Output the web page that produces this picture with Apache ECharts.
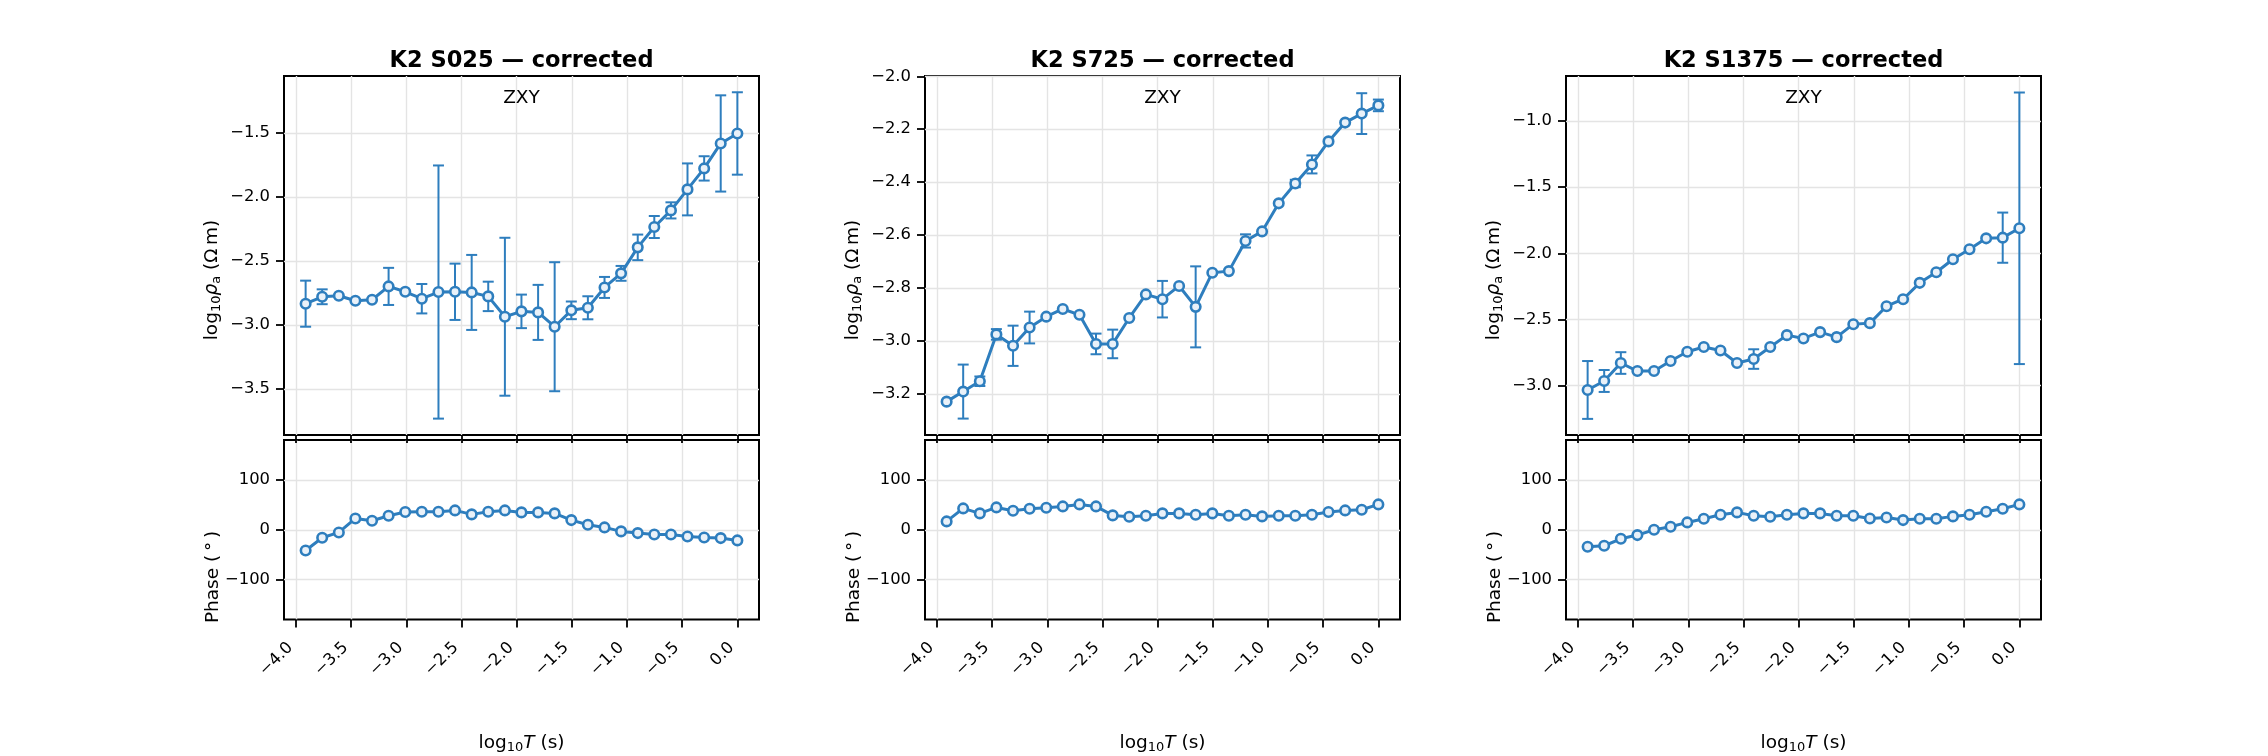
<!DOCTYPE html>
<html>
<head>
<meta charset="utf-8">
<script src="https://cdn.jsdelivr.net/npm/echarts@6/dist/echarts.min.js"></script>
<style>
  html, body { margin: 0; padding: 0; background: #fff; }
  #chart { width: 2268px; height: 756px; }
</style>
</head>
<body>
<div id="chart"></div>
<script>
// log10 of period (s), two samples per octave
const logT = [-3.913, -3.763, -3.612, -3.462, -3.311, -3.161, -3.010, -2.860, -2.709,
  -2.559, -2.408, -2.258, -2.107, -1.957, -1.806, -1.656, -1.505, -1.355, -1.204,
  -1.054, -0.903, -0.753, -0.602, -0.452, -0.301, -0.151, 0.000];

const stations = ['K2 S025', 'K2 S725', 'K2 S1375'];

// log10 apparent resistivity, its error (half width) and phase, per station
const rhoS025 = [-2.833, -2.779, -2.771, -2.810, -2.802, -2.698, -2.740, -2.794, -2.742,
  -2.740, -2.745, -2.776, -2.935, -2.893, -2.901, -3.013, -2.885, -2.865, -2.706,
  -2.596, -2.393, -2.234, -2.104, -1.940, -1.776, -1.581, -1.503];
const errS025 = [0.180, 0.058, 0, 0, 0, 0.145, 0, 0.115, 0.989, 0.220, 0.293, 0.115,
  0.617, 0.131, 0.215, 0.504, 0.069, 0.090, 0.082, 0.058, 0.100, 0.086, 0.063, 0.203,
  0.095, 0.376, 0.322];
const phaseS025 = [-41.5, -16.1, -5.4, 22.7, 18.1, 28.1, 35.5, 36.1, 36.1, 38.8, 30.8,
  36.1, 38.8, 34.8, 34.8, 32.8, 19.4, 10.0, 4.7, -3.3, -6.7, -9.4, -9.4, -13.4, -15.4,
  -16.7, -21.4];

const rhoS725 = [-3.229, -3.191, -3.152, -2.975, -3.018, -2.949, -2.908, -2.879, -2.901,
  -3.011, -3.011, -2.913, -2.824, -2.842, -2.792, -2.871, -2.742, -2.736, -2.622,
  -2.586, -2.480, -2.405, -2.333, -2.246, -2.175, -2.141, -2.110];
const errS725 = [0, 0.102, 0.018, 0.020, 0.076, 0.060, 0, 0, 0, 0.039, 0.054, 0, 0,
  0.069, 0, 0.153, 0, 0, 0.025, 0, 0, 0.014, 0.034, 0, 0, 0.077, 0.022];
const phaseS725 = [16.7, 42.8, 32.8, 44.8, 38.1, 42.1, 44.1, 46.8, 50.8, 46.8, 28.8,
  26.1, 28.1, 32.8, 32.8, 30.1, 32.8, 28.1, 30.1, 26.8, 28.1, 28.1, 30.1, 35.5, 38.8,
  40.1, 50.8];

const rhoS1375 = [-3.035, -2.967, -2.831, -2.892, -2.892, -2.816, -2.746, -2.710, -2.736,
  -2.831, -2.801, -2.710, -2.620, -2.645, -2.597, -2.635, -2.537, -2.529, -2.401,
  -2.348, -2.224, -2.144, -2.045, -1.970, -1.887, -1.882, -1.811];
const errS1375 = [0.219, 0.083, 0.082, 0, 0, 0, 0, 0, 0, 0, 0.074, 0, 0, 0, 0, 0, 0, 0,
  0, 0, 0, 0, 0, 0, 0, 0.190, 1.028];
const phaseS1375 = [-34.1, -32.1, -18.1, -10.7, 0.0, 6.0, 14.7, 22.1, 30.1, 34.8, 28.1,
  26.1, 30.1, 32.8, 32.8, 28.1, 28.1, 22.7, 24.7, 19.4, 22.1, 22.1, 26.8, 30.1, 36.1,
  42.1, 50.8];

// ticks and view limits
const xTicks = [-4.0, -3.5, -3.0, -2.5, -2.0, -1.5, -1.0, -0.5, 0.0];
const xLimits = [-4.109, 0.196];
const rhoTicks = [
  [-3.5, -3.0, -2.5, -2.0, -1.5],
  [-3.2, -3.0, -2.8, -2.6, -2.4, -2.2, -2.0],
  [-3.0, -2.5, -2.0, -1.5, -1.0]
];
const rhoStep = [0.5, 0.2, 0.5];
const rhoLimits = [[-3.859, -1.054], [-3.355, -1.999], [-3.376, -0.658]];
const phaseTicks = [-100, 0, 100];
const phaseLimits = [-180, 180];

const rhoSets = [rhoS025, rhoS725, rhoS1375];
const errSets = [errS025, errS725, errS1375];
const phaseSets = [phaseS025, phaseS725, phaseS1375];

const BLUE = '#2e7ebe';
const FACE = '#e9f1f9';
const FONT = 'DejaVu Sans';
const lefts = [284, 925, 1566];
const W = 475;

const fmt1 = v => (Math.abs(v) < 1e-9 ? 0 : v).toFixed(1).replace('-', '\u2212');
const fmt0 = v => String(Math.round(v)).replace('-', '\u2212');

function renderErr(params, api) {
  const x = api.value(0), v = api.value(1), e = api.value(2);
  if (!e) return;
  const hi = api.coord([x, v + e]);
  const lo = api.coord([x, v - e]);
  const c = 5.5;
  const style = { stroke: BLUE, lineWidth: 2 };
  return {
    type: 'group',
    children: [
      { type: 'line', shape: { x1: hi[0], y1: hi[1], x2: lo[0], y2: lo[1] }, style },
      { type: 'line', shape: { x1: hi[0] - c, y1: hi[1], x2: hi[0] + c, y2: hi[1] }, style },
      { type: 'line', shape: { x1: lo[0] - c, y1: lo[1], x2: lo[0] + c, y2: lo[1] }, style }
    ]
  };
}

// rich styles for axis labels with subscripts
const richLabel = {
  n: { fontFamily: FONT, fontSize: 18.5, lineHeight: 22, fill: '#000' },
  i: { fontFamily: FONT, fontSize: 18.5, lineHeight: 22, fontStyle: 'italic', fill: '#000' },
  s: { fontFamily: FONT, fontSize: 13, lineHeight: 13, verticalAlign: 'bottom', fill: '#000' }
};

const grids = [], xAxes = [], yAxes = [], series = [], graphics = [];

const tickStyle = { show: true, length: 8, lineStyle: { color: '#000', width: 1.8 } };
const gridLine = { show: true, lineStyle: { color: '#e4e4e4', width: 1.4 } };
const labelFont = { color: '#000', fontFamily: FONT, fontSize: 16.4 };
const noLine = { show: false, onZero: false };

stations.forEach((name, i) => {
  const rg = i * 2, pg = i * 2 + 1;
  grids.push({ left: lefts[i], top: 76, width: W, height: 359, show: true,
    borderColor: '#000', borderWidth: 2, backgroundColor: '#fff' });
  grids.push({ left: lefts[i], top: 440, width: W, height: 179.5, show: true,
    borderColor: '#000', borderWidth: 2, backgroundColor: '#fff' });

  [rg, pg].forEach(g => {
    xAxes.push({
      type: 'value', gridIndex: g, position: 'bottom',
      min: xLimits[0], max: xLimits[1], interval: 0.5,
      axisLine: noLine,
      axisTick: Object.assign({ customValues: xTicks }, tickStyle),
      splitLine: gridLine,
      axisLabel: g === pg ? Object.assign({
        show: true, customValues: xTicks, rotate: 45, margin: 20,
        padding: [0, 8, 0, 0], formatter: fmt1
      }, labelFont) : { show: false }
    });
  });

  yAxes.push({
    type: 'value', gridIndex: rg, position: 'left',
    min: rhoLimits[i][0], max: rhoLimits[i][1], interval: rhoStep[i],
    axisLine: noLine,
    axisTick: Object.assign({ customValues: rhoTicks[i] }, tickStyle),
    splitLine: gridLine,
    axisLabel: Object.assign({ customValues: rhoTicks[i], margin: 14, formatter: fmt1 }, labelFont)
  });
  yAxes.push({
    type: 'value', gridIndex: pg, position: 'left',
    min: phaseLimits[0], max: phaseLimits[1], interval: 100,
    axisLine: noLine,
    axisTick: Object.assign({ customValues: phaseTicks }, tickStyle),
    splitLine: gridLine,
    axisLabel: Object.assign({ customValues: phaseTicks, margin: 14, formatter: fmt0 }, labelFont)
  });

  series.push({
    type: 'custom', xAxisIndex: rg, yAxisIndex: rg, z: 2,
    renderItem: renderErr,
    data: logT.map((x, k) => [x, rhoSets[i][k], errSets[i][k]])
  });
  const lineCfg = {
    type: 'line', symbol: 'circle', symbolSize: 9.5, z: 3,
    lineStyle: { color: BLUE, width: 3 },
    itemStyle: { color: FACE, borderColor: BLUE, borderWidth: 2.6 }
  };
  series.push(Object.assign({ xAxisIndex: rg, yAxisIndex: rg,
    data: logT.map((x, k) => [x, rhoSets[i][k]]) }, lineCfg));
  series.push(Object.assign({ xAxisIndex: pg, yAxisIndex: pg,
    data: logT.map((x, k) => [x, phaseSets[i][k]]) }, lineCfg));

  const cx = lefts[i] + W / 2;
  graphics.push(
    { type: 'text', x: cx, y: 61, style: { text: name + ' \u2014 corrected',
      font: 'bold 22.5px "' + FONT + '"', fill: '#000', align: 'center', verticalAlign: 'middle' } },
    { type: 'text', x: cx, y: 98, z: 10, style: { text: 'ZXY',
      font: '18.5px "' + FONT + '"', fill: '#000', align: 'center', verticalAlign: 'middle' } },
    { type: 'text', x: lefts[i] - 72, y: 280, rotation: Math.PI / 2, style: {
      text: '{n|log}{s|10}{i|\u03c1}{s|a}{n| (\u03a9\u2009m)}', align: 'center',
      verticalAlign: 'middle', rich: richLabel } },
    { type: 'text', x: lefts[i] - 71, y: 577, rotation: Math.PI / 2, style: {
      text: 'Phase (\u2009\u00b0\u2009)', font: '18.5px "' + FONT + '"', fill: '#000',
      align: 'center', verticalAlign: 'middle' } },
    { type: 'text', x: cx, y: 743, style: {
      text: '{n|log}{s|10}{i|T}{n| (s)}', align: 'center', verticalAlign: 'middle',
      rich: richLabel } }
  );
});

const chart = echarts.init(document.getElementById('chart'), null, { renderer: 'canvas' });
chart.setOption({
  backgroundColor: '#fff',
  animation: false,
  grid: grids,
  xAxis: xAxes,
  yAxis: yAxes,
  series: series,
  graphic: graphics
});
</script>
</body>
</html>
